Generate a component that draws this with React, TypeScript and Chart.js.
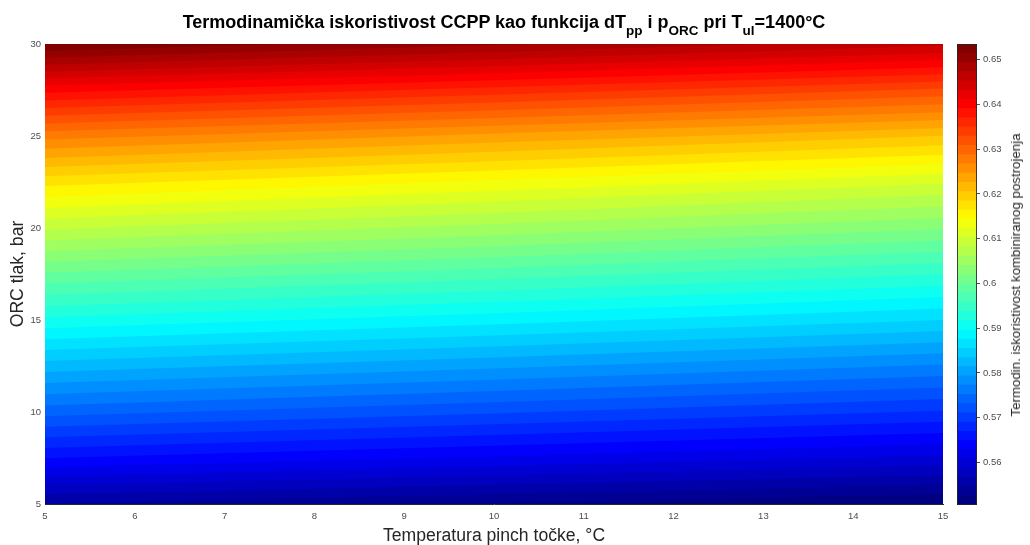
import React, { useEffect, useRef } from 'react';
import { Chart, registerables } from 'chart.js';

Chart.register(...registerables);

// ---- data ----
const dTColumns = [5, 10, 15]; // pinch temperature, °C
const pressures = [5, 7.5, 10, 12.5, 15, 17.5, 20, 22.5, 25, 27.5, 30]; // ORC pressure, bar
const effAtDT5 = [0.5545, 0.565, 0.574, 0.5825, 0.5912, 0.5997, 0.6085, 0.6172, 0.6275, 0.6398, 0.6535];
const effAtDT10 = [0.5525, 0.5626, 0.5714, 0.5798, 0.5884, 0.5968, 0.6054, 0.6139, 0.624, 0.6362, 0.6497];
const effAtDT15 = [0.5505, 0.5603, 0.5688, 0.577, 0.5855, 0.5938, 0.6022, 0.6105, 0.6205, 0.6325, 0.6458];

const xTicks = [5, 6, 7, 8, 9, 10, 11, 12, 13, 14, 15];
const yTicks = [5, 10, 15, 20, 25, 30];
const cbTicks = [0.56, 0.57, 0.58, 0.59, 0.6, 0.61, 0.62, 0.63, 0.64, 0.65];
const levelCount = 50;

const FONT = '"Liberation Sans", Arial, Helvetica, sans-serif';

const effColumns = [effAtDT5, effAtDT10, effAtDT15];
const cMin = Math.min(...effColumns.map((c) => Math.min(...c)));
const cMax = Math.max(...effColumns.map((c) => Math.max(...c)));
const step = (cMax - cMin) / levelCount;
const levels = Array.from({ length: levelCount }, (_, i) => cMin + i * step);

function clamp01(v: number) {
  return Math.max(0, Math.min(1, v));
}
function jet(t: number) {
  const r = clamp01(1.5 - Math.abs(4 * t - 3));
  const g = clamp01(1.5 - Math.abs(4 * t - 2));
  const b = clamp01(1.5 - Math.abs(4 * t - 1));
  return `rgb(${Math.round(r * 255)},${Math.round(g * 255)},${Math.round(b * 255)})`;
}
const bandColors = levels.map((_, i) => jet(i / (levelCount - 1)));

function pressureAt(effs: number[], L: number) {
  const n = effs.length;
  let k = 0;
  if (L <= effs[0]) k = 0;
  else if (L >= effs[n - 1]) k = n - 2;
  else {
    while (k < n - 2 && effs[k + 1] < L) k++;
  }
  const t = (L - effs[k]) / (effs[k + 1] - effs[k]);
  return pressures[k] + t * (pressures[k + 1] - pressures[k]);
}

const subStyle: React.CSSProperties = {
  fontSize: 13.5,
  verticalAlign: '-7px',
  lineHeight: '0',
};

export default function App() {
  const mainRef = useRef<HTMLCanvasElement>(null);
  const cbRef = useRef<HTMLCanvasElement>(null);

  useEffect(() => {
    const datasets = levels.map((L, i) => ({
      data: dTColumns.map((x, c) => ({ x, y: pressureAt(effColumns[c], L) })),
      showLine: true,
      fill: 'end' as const,
      backgroundColor: bandColors[i],
      borderWidth: 0,
      pointRadius: 0,
      tension: 0,
      order: levelCount - i,
    }));

    const main = new Chart(mainRef.current!, {
      type: 'line',
      data: { datasets },
      options: {
        responsive: false,
        animation: false,
        events: [],
        layout: { padding: { left: 0, top: 44, right: 87, bottom: 0 } },
        plugins: {
          legend: { display: false },
          title: { display: false },
          tooltip: { enabled: false },
        },
        scales: {
          x: {
            type: 'linear',
            min: 5,
            max: 15,
            z: 1,
            afterBuildTicks: (s: any) => {
              s.ticks = xTicks.map((v) => ({ value: v }));
            },
            afterFit: (s: any) => {
              s.height = 41;
            },
            grid: { display: false, drawTicks: false },
            border: { display: true, color: '#262626', width: 1 },
            ticks: {
              font: { size: 9.5, family: FONT },
              color: '#4d4d4d',
              padding: 7,
              maxRotation: 0,
              autoSkip: false,
            },
            title: {
              display: true,
              text: 'Temperatura pinch točke, °C',
              font: { size: 17.6, family: FONT, lineHeight: 1 },
              color: '#262626',
              padding: { top: 0, bottom: 0 },
            },
          },
          y: {
            type: 'linear',
            min: 5,
            max: 30,
            z: 1,
            afterBuildTicks: (s: any) => {
              s.ticks = yTicks.map((v) => ({ value: v }));
            },
            afterFit: (s: any) => {
              s.width = 45;
            },
            grid: { display: false, drawTicks: false },
            border: { display: true, color: '#262626', width: 1 },
            ticks: {
              font: { size: 9.5, family: FONT },
              color: '#4d4d4d',
              padding: 4,
              autoSkip: false,
            },
            title: {
              display: true,
              text: 'ORC tlak, bar',
              font: { size: 17.6, family: FONT, lineHeight: 1 },
              color: '#262626',
              padding: { top: 9, bottom: 0 },
            },
          },
        },
      },
    } as any);

    const frame = {
      id: 'cbFrame',
      afterDatasetsDraw(chart: any) {
        const { ctx, chartArea: a } = chart;
        ctx.save();
        ctx.strokeStyle = 'rgba(38,38,38,0.85)';
        ctx.lineWidth = 1;
        ctx.strokeRect(a.left + 0.5, a.top + 0.5, a.right - a.left - 1, a.bottom - a.top - 1);
        ctx.restore();
      },
    };

    const cb = new Chart(cbRef.current!, {
      type: 'bar',
      data: {
        labels: [''],
        datasets: levels.map((L, i) => ({
          data: [[cMin, i === levelCount - 1 ? cMax : levels[i + 1]]],
          backgroundColor: bandColors[i],
          borderWidth: 0,
          grouped: false,
          barPercentage: 1,
          categoryPercentage: 1,
        })),
      },
      options: {
        responsive: false,
        animation: false,
        events: [],
        layout: { padding: { left: 0, top: 44, right: 0, bottom: 40 } },
        plugins: { legend: { display: false }, tooltip: { enabled: false } },
        scales: {
          x: { display: false },
          y: {
            position: 'right',
            min: cMin,
            max: cMax,
            afterBuildTicks: (s: any) => {
              s.ticks = cbTicks.map((v) => ({ value: v }));
            },
            afterFit: (s: any) => {
              s.width = 53;
            },
            grid: { display: true, drawOnChartArea: false, drawTicks: true, tickLength: 3, color: '#555' },
            border: { display: false },
            ticks: {
              font: { size: 9.5, family: FONT },
              color: '#4d4d4d',
              padding: 3,
              autoSkip: false,
              callback: (v: any) => Number(v).toFixed(2).replace(/0$/, ''),
            },
          },
        },
      },
      plugins: [frame],
    } as any);

    return () => {
      main.destroy();
      cb.destroy();
    };
  }, []);

  return (
    <div
      style={{
        position: 'fixed',
        left: 0,
        top: 0,
        width: 1030,
        height: 545,
        background: '#fff',
        overflow: 'hidden',
        fontFamily: FONT,
      }}
    >
      <canvas
        ref={mainRef}
        width={1030}
        height={545}
        style={{ position: 'absolute', left: 0, top: 0, width: 1030, height: 545 }}
      />
      <canvas
        ref={cbRef}
        width={73}
        height={545}
        style={{ position: 'absolute', left: 957, top: 0, width: 73, height: 545 }}
      />
      <div
        style={{
          position: 'absolute',
          left: 0,
          top: 13,
          width: 1008,
          textAlign: 'center',
          fontSize: 18,
          fontWeight: 'bold',
          lineHeight: '18px',
          whiteSpace: 'nowrap',
          color: '#000',
        }}
      >
        Termodinamička iskoristivost CCPP kao funkcija dT<sub style={subStyle}>pp</sub> i p
        <sub style={subStyle}>ORC</sub> pri T<sub style={subStyle}>ul</sub>=1400°C
      </div>
      <div
        style={{
          position: 'absolute',
          left: 1016,
          top: 275,
          transform: 'translate(-50%, -50%) rotate(-90deg)',
          fontSize: 13.3,
          color: '#262626',
          whiteSpace: 'nowrap',
          lineHeight: '14px',
        }}
      >
        Termodin. iskoristivost kombiniranog postrojenja
      </div>
    </div>
  );
}
